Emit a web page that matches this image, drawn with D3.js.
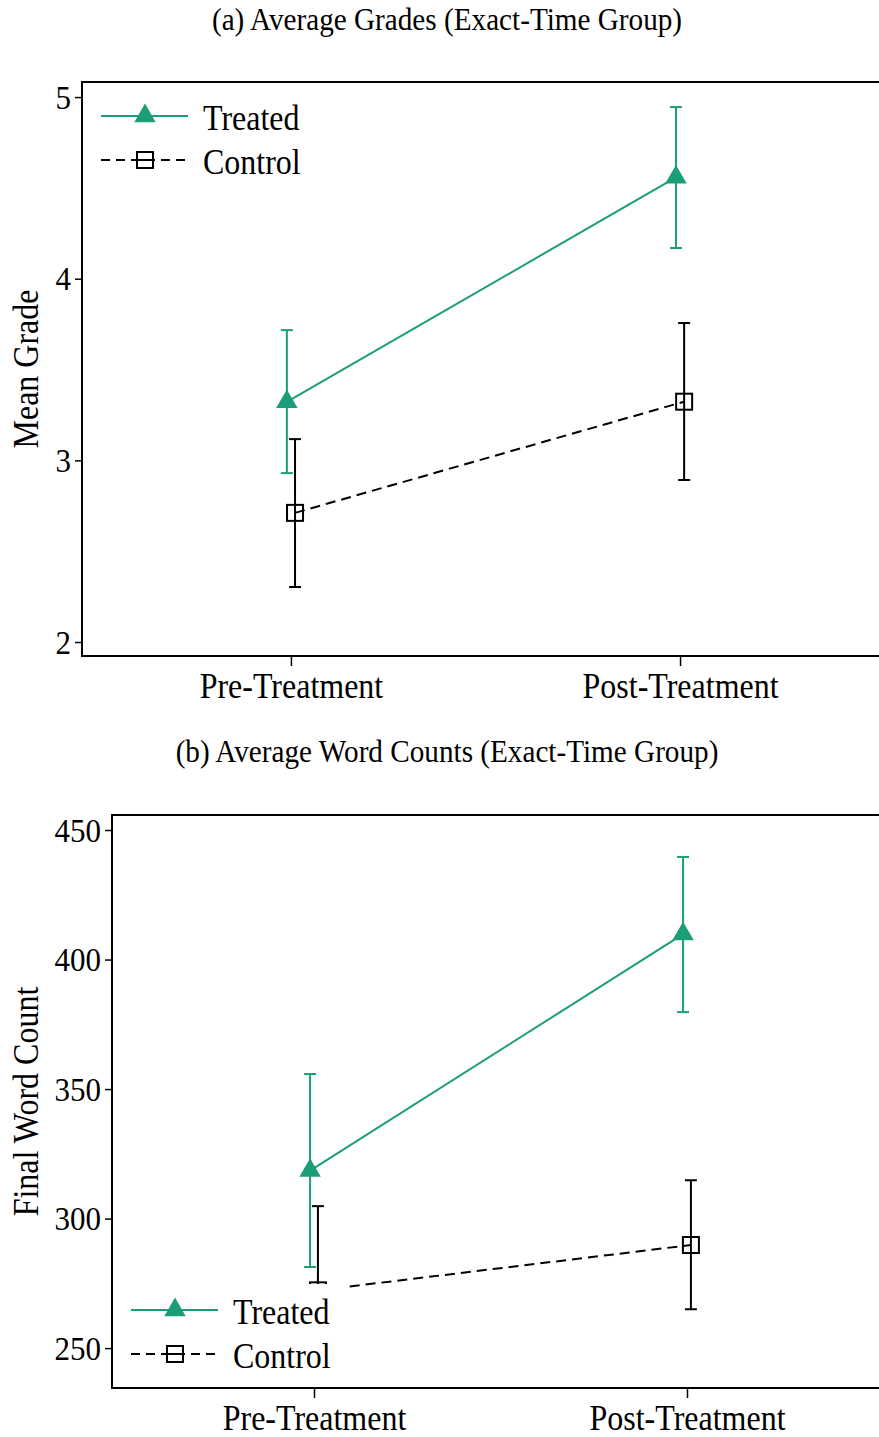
<!DOCTYPE html>
<html>
<head>
<meta charset="utf-8">
<script src="https://cdn.jsdelivr.net/npm/d3@7"></script>
<style>
  html, body { margin: 0; padding: 0; background: #fff; }
  svg { display: block; }
  text { font-family: "Liberation Serif", "Times New Roman", serif; fill: #000; }
</style>
</head>
<body>
<svg id="chart" width="879" height="1437"></svg>
<script>
// Periods on the x axis
const categories = ["Pre-Treatment", "Post-Treatment"];

// Panel (a): mean grade with confidence intervals
const gradeTreated   = [3.322, 4.558];
const gradeTreatedLo = [2.930, 4.169];
const gradeTreatedHi = [3.717, 4.945];
const gradeControl   = [2.711, 3.323];
const gradeControlLo = [2.303, 2.892];
const gradeControlHi = [3.117, 3.756];
const gradeTicks = [2, 3, 4, 5];

// Panel (b): final word count with confidence intervals
const wordTreated   = [318.5, 409.8];
const wordTreatedLo = [281.3, 379.7];
const wordTreatedHi = [355.8, 439.6];
const wordControl   = [272.3, 289.8];
const wordControlLo = [239.8, 265.0];
const wordControlHi = [304.8, 314.8];
const wordTicks = [250, 300, 350, 400, 450];

const seriesNames = ["Treated", "Control"];

const GREEN = "#1b9e77";
const STRETCH = 1.1; // glyphs are drawn slightly taller than wide
const svg = d3.select("#chart");

function series(vals, lo, hi, shift) {
  return vals.map((v, i) => ({ x: i + shift, v, lo: lo[i], hi: hi[i] }));
}

// text drawn with a vertical stretch around its own anchor point
function tallText(parent, x, y, str, size, anchor, rotate) {
  return parent.append("text")
    .attr("transform", `translate(${x},${y})${rotate ? ` rotate(${rotate})` : ""} scale(1,${STRETCH})`)
    .attr("text-anchor", anchor || "start")
    .attr("font-size", size)
    .text(str);
}

function drawPanel(cfg) {
  const g = svg.append("g");
  const x = d3.scaleLinear().domain(cfg.xDomain).range([cfg.left, cfg.right]);
  const y = d3.scaleLinear().domain(cfg.yDomain).range([cfg.bottom, cfg.top]);

  // title
  tallText(g, 447, cfg.titleY, cfg.title, 29.2, "middle");

  // frame
  g.append("rect")
    .attr("x", cfg.left).attr("y", cfg.top)
    .attr("width", cfg.right - cfg.left).attr("height", cfg.bottom - cfg.top)
    .attr("fill", "none").attr("stroke", "#000").attr("stroke-width", 2);

  // y axis
  const ya = g.append("g").attr("transform", `translate(${cfg.left},0)`)
    .call(d3.axisLeft(y).tickValues(cfg.ticks).tickSize(7).tickPadding(4).tickFormat(d3.format("d")));
  ya.select(".domain").remove();
  ya.selectAll(".tick line").attr("stroke", "#000").attr("stroke-width", 1.5);
  ya.selectAll(".tick text").remove();
  ya.selectAll(".tick").each(function (d) {
    tallText(d3.select(this), -11, 11, d3.format("d")(d), 31, "end");
  });

  // x axis
  const xa = g.append("g").attr("transform", `translate(0,${cfg.bottom})`)
    .call(d3.axisBottom(x).tickValues([0, 1]).tickSize(10).tickPadding(10).tickFormat(i => categories[i]));
  xa.select(".domain").remove();
  xa.selectAll(".tick line").attr("stroke", "#000").attr("stroke-width", 1.5);
  xa.selectAll(".tick text").remove();
  xa.selectAll(".tick").each(function (d) {
    tallText(d3.select(this), 0, 42, categories[d], 32, "middle");
  });

  // y axis title
  tallText(g, 38, (cfg.top + cfg.bottom) / 2, cfg.yLabel, 32, "middle", -90);

  const line = d3.line().x(d => x(d.x)).y(d => y(d.v));
  const cap = 6;

  function drawSeries(data, color, dashed) {
    g.append("path").datum(data)
      .attr("d", line).attr("fill", "none")
      .attr("stroke", color).attr("stroke-width", 2)
      .attr("stroke-dasharray", dashed ? "10,6" : null);
    const eb = g.append("g").attr("stroke", color).attr("stroke-width", 2);
    data.forEach(d => {
      eb.append("line").attr("x1", x(d.x)).attr("x2", x(d.x)).attr("y1", y(d.lo)).attr("y2", y(d.hi));
      eb.append("line").attr("x1", x(d.x) - cap).attr("x2", x(d.x) + cap).attr("y1", y(d.lo)).attr("y2", y(d.lo));
      eb.append("line").attr("x1", x(d.x) - cap).attr("x2", x(d.x) + cap).attr("y1", y(d.hi)).attr("y2", y(d.hi));
    });
  }

  const treated = series(cfg.treated, cfg.treatedLo, cfg.treatedHi, -0.0105);
  const control = series(cfg.control, cfg.controlLo, cfg.controlHi, 0.0105);

  drawSeries(treated, GREEN, false);
  drawSeries(control, "#000", true);

  const tri = d3.symbol().type(d3.symbolTriangle).size(200);
  g.selectAll(".tri").data(treated).join("path")
    .attr("transform", d => `translate(${x(d.x)},${y(d.v)})`)
    .attr("d", tri).attr("fill", GREEN);
  g.selectAll(".sq").data(control).join("rect")
    .attr("x", d => x(d.x) - 8).attr("y", d => y(d.v) - 8)
    .attr("width", 16).attr("height", 16)
    .attr("fill", "none").attr("stroke", "#000").attr("stroke-width", 2);

  // legend
  const lg = g.append("g").attr("transform", `translate(${cfg.legX},${cfg.legY})`);
  lg.append("rect").attr("x", -18).attr("y", -26).attr("width", 232).attr("height", 101).attr("fill", "#fff");
  seriesNames.forEach((name, i) => {
    const row = lg.append("g").attr("transform", `translate(0,${i * 44})`);
    row.append("line").attr("x1", 0).attr("x2", 87).attr("y1", 0).attr("y2", 0)
      .attr("stroke", i === 0 ? GREEN : "#000").attr("stroke-width", 2)
      .attr("stroke-dasharray", i === 0 ? null : "9,6");
    if (i === 0) {
      row.append("path").attr("transform", "translate(44,0)").attr("d", tri).attr("fill", GREEN);
    } else {
      row.append("rect").attr("x", 36).attr("y", -8).attr("width", 16).attr("height", 16)
        .attr("fill", "#fff").attr("stroke", "#000").attr("stroke-width", 2);
      row.append("line").attr("x1", 36).attr("x2", 52).attr("y1", 0).attr("y2", 0)
        .attr("stroke", "#000").attr("stroke-width", 2);
    }
    tallText(row, 102, 14, name, 32, "start");
  });
}

drawPanel({
  title: "(a) Average Grades (Exact-Time Group)", titleY: 30,
  left: 82, right: 889, top: 82, bottom: 656,
  xDomain: [-0.537, 1.537], yDomain: [1.923, 5.083],
  ticks: gradeTicks, yLabel: "Mean Grade",
  treated: gradeTreated, treatedLo: gradeTreatedLo, treatedHi: gradeTreatedHi,
  control: gradeControl, controlLo: gradeControlLo, controlHi: gradeControlHi,
  legX: 101, legY: 116
});

drawPanel({
  title: "(b) Average Word Counts (Exact-Time Group)", titleY: 762,
  left: 112, right: 889, top: 815, bottom: 1388,
  xDomain: [-0.5416, 1.5416], yDomain: [234.6, 455.8],
  ticks: wordTicks, yLabel: "Final Word Count",
  treated: wordTreated, treatedLo: wordTreatedLo, treatedHi: wordTreatedHi,
  control: wordControl, controlLo: wordControlLo, controlHi: wordControlHi,
  legX: 131, legY: 1310
});
</script>
</body>
</html>
